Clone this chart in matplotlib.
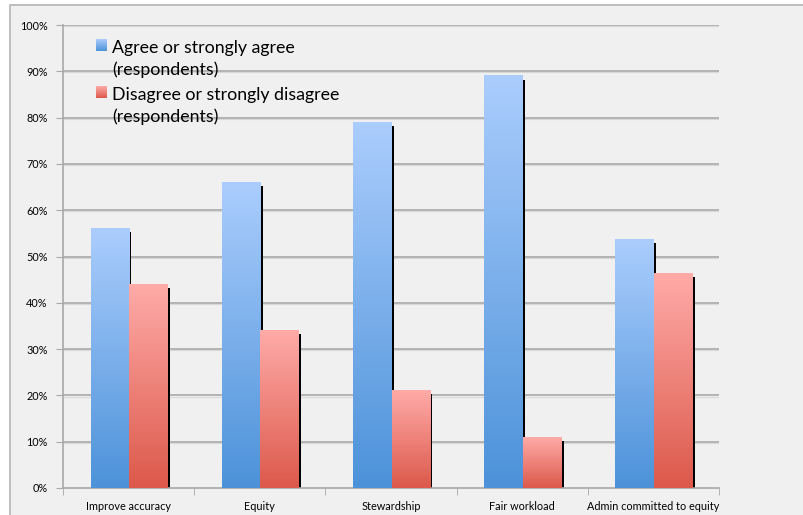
import matplotlib.pyplot as plt
import numpy as np
from matplotlib.colors import LinearSegmentedColormap, to_rgb
from matplotlib.patches import Rectangle

categories = ["Improve accuracy", "Equity", "Stewardship", "Fair workload",
              "Admin committed to equity"]
agree = [56, 66, 79, 89, 53.7]
disagree = [44, 34, 21, 11, 46.3]
labels = ["Agree or strongly agree\n(respondents)",
          "Disagree or strongly disagree\n(respondents)"]

BLUE_TOP, BLUE_BOT = "#abcdfd", "#4c92d9"
RED_TOP, RED_BOT = "#ffaba8", "#dc594b"
BG = "#f0f0f0"
GRID = "#a8a8a8"

plt.rcParams["font.family"] = ["Lato", "DejaVu Sans"]

fig = plt.figure(figsize=(8.04, 5.15), dpi=100, facecolor="white")
# outer chart frame
fig.patches.append(Rectangle((10 / 804, -0.1), 1.2, (515 - 5) / 515 + 0.1,
                             transform=fig.transFigure, facecolor=BG,
                             edgecolor="#b4b4b4", linewidth=1.2, zorder=-5))

ax = fig.add_axes([63 / 804, 27 / 515, 656 / 804, 463 / 515])
ax.set_facecolor("none")

x = np.arange(len(categories))
w = 0.29
grad = np.linspace(0, 1, 256).reshape(-1, 1)


def gradient_bar(x0, h, top, bot):
    cmap = LinearSegmentedColormap.from_list("g", [to_rgb(bot), to_rgb(top)])
    # shadow
    ax.add_patch(Rectangle((x0 + 0.021, 0), w, h - 0.8, facecolor="black",
                           edgecolor="none", zorder=2))
    ax.imshow(grad, cmap=cmap, origin="lower", aspect="auto",
              extent=[x0, x0 + w, 0, h], zorder=3, interpolation="bilinear")


for i in x:
    gradient_bar(i - w, agree[i], BLUE_TOP, BLUE_BOT)
    gradient_bar(i + 0.005, disagree[i], RED_TOP, RED_BOT)

ax.set_yticks(np.arange(0, 101, 10))
ax.set_yticklabels([f"{v}%" for v in range(0, 101, 10)], fontsize=7.8)
for v in range(10, 101, 10):
    ax.axhline(v, color=GRID, linewidth=1.2, zorder=1)
    ax.axhline(v - 0.25, color="#d8d8d8", linewidth=0.8, zorder=1)

ax.set_xticks(x)
ax.set_xticklabels(categories, fontsize=7.8)
ax.set_xticks(np.arange(-0.5, len(categories)), minor=True)
ax.tick_params(axis="x", which="major", length=0, pad=9.5)
ax.tick_params(axis="x", which="minor", length=5, color=GRID, direction="out")
ax.tick_params(axis="y", length=5, color=GRID, pad=6)

for s in ["top", "right"]:
    ax.spines[s].set_visible(False)
for s in ["left", "bottom"]:
    ax.spines[s].set_color(GRID)
    ax.spines[s].set_linewidth(1.2)

# legend drawn manually (square aligned with first line)
leg_y = [0.968, 0.866]
for (top, bot), lab, y0 in zip([(BLUE_TOP, BLUE_BOT), (RED_TOP, RED_BOT)], labels, leg_y):
    cmap = LinearSegmentedColormap.from_list("g", [to_rgb(bot), to_rgb(top)])
    ax.imshow(grad, cmap=cmap, origin="lower", aspect="auto",
              extent=[0.05, 0.0665, y0 - 0.024, y0], transform=ax.transAxes,
              zorder=5)
    ax.text(0.075, y0 + 0.0, lab, transform=ax.transAxes, fontsize=12.8,
            va="top", ha="left", linespacing=1.4, zorder=5)

ax.set_xlim(-0.5, len(categories) - 0.5)
ax.set_ylim(0, 100)
ax.set_aspect("auto")

fig.savefig("out.png", dpi=100, facecolor="white")
